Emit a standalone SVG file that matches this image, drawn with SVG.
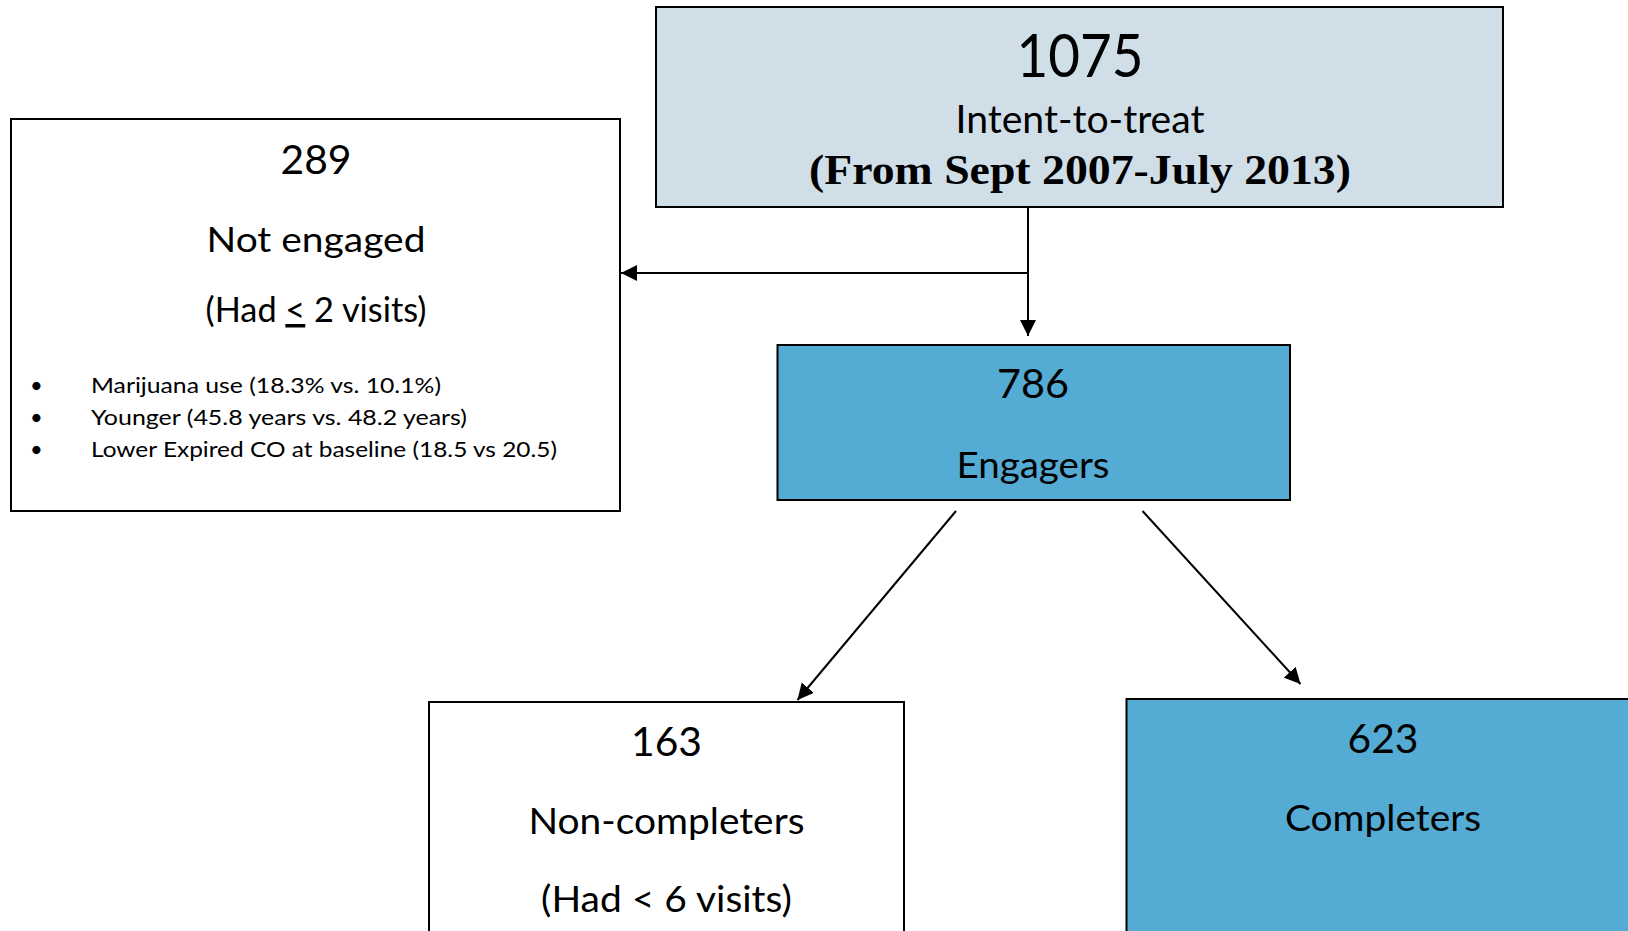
<svg xmlns="http://www.w3.org/2000/svg" width="1628" height="931" viewBox="0 0 1628 931">
<style>
.box{stroke:#000;stroke-width:2}
.t{font-family:Lato,"Open Sans","Liberation Sans",sans-serif;fill:#000;text-anchor:middle}
.b{font-family:"Liberation Serif","DejaVu Serif",serif;font-weight:bold;fill:#000;text-anchor:middle}
.s{font-family:Lato,"Open Sans","Liberation Sans",sans-serif;fill:#000;font-size:22px}
.c{stroke:#000;stroke-width:2;fill:none}
</style>
<defs>
<marker id="ah" viewBox="0 0 16 16" refX="16" refY="8" markerWidth="16" markerHeight="16" markerUnits="userSpaceOnUse" orient="auto">
<path d="M0,0 L16,8 L0,16 z" fill="#000"/>
</marker>
</defs>
<rect width="1628" height="931" fill="#fff"/>
<g id="itt">
<rect class="box" x="656" y="7" width="847" height="200" fill="#d0dee8"/>
<text class="t" x="1080" y="77" font-size="60" textLength="127" lengthAdjust="spacingAndGlyphs">1075</text>
<text class="t" x="1080" y="133" font-size="39" textLength="249" lengthAdjust="spacingAndGlyphs">Intent-to-treat</text>
<text class="b" x="1080" y="184" font-size="43" textLength="542" lengthAdjust="spacingAndGlyphs">(From Sept 2007-July 2013)</text>
</g>
<g id="notengaged">
<rect class="box" x="11" y="119" width="609" height="392" fill="#fff"/>
<text class="t" x="316" y="174" font-size="40" textLength="71" lengthAdjust="spacingAndGlyphs">289</text>
<text class="t" x="316" y="252" font-size="35" textLength="219" lengthAdjust="spacingAndGlyphs">Not engaged</text>
<text class="t" x="316" y="322" font-size="35" textLength="221" lengthAdjust="spacingAndGlyphs">(Had <tspan text-decoration="underline">&lt;</tspan> 2 visits)</text>
<text class="s" x="30" y="393">•</text>
<text class="s" x="30" y="425">•</text>
<text class="s" x="30" y="457">•</text>
<text class="s" x="91" y="393" textLength="350" lengthAdjust="spacingAndGlyphs">Marijuana use (18.3% vs. 10.1%)</text>
<text class="s" x="91" y="425" textLength="376" lengthAdjust="spacingAndGlyphs">Younger (45.8 years vs. 48.2 years)</text>
<text class="s" x="91" y="457" textLength="466" lengthAdjust="spacingAndGlyphs">Lower Expired CO at baseline (18.5 vs 20.5)</text>
</g>
<g id="engagers">
<rect class="box" x="777.5" y="345" width="512.5" height="155" fill="#54abd4"/>
<text class="t" x="1033" y="398" font-size="40" textLength="72" lengthAdjust="spacingAndGlyphs">786</text>
<text class="t" x="1033" y="478" font-size="36" textLength="153" lengthAdjust="spacingAndGlyphs">Engagers</text>
</g>
<g id="noncompleters">
<rect class="box" x="429" y="702" width="475" height="240" fill="#fff"/>
<text class="t" x="666.5" y="756" font-size="40" textLength="71" lengthAdjust="spacingAndGlyphs">163</text>
<text class="t" x="666.5" y="834" font-size="36" textLength="276" lengthAdjust="spacingAndGlyphs">Non-completers</text>
<text class="t" x="666.5" y="912" font-size="36" textLength="251" lengthAdjust="spacingAndGlyphs">(Had &lt; 6 visits)</text>
</g>
<g id="completers">
<rect class="box" x="1126.5" y="699" width="520" height="250" fill="#54abd4"/>
<text class="t" x="1383" y="753" font-size="40" textLength="71" lengthAdjust="spacingAndGlyphs">623</text>
<text class="t" x="1383" y="831" font-size="36" textLength="196" lengthAdjust="spacingAndGlyphs">Completers</text>
</g>
<g id="connectors">
<line class="c" x1="1028" y1="207" x2="1028" y2="336" marker-end="url(#ah)"/>
<line class="c" x1="1029" y1="273" x2="621" y2="273" marker-end="url(#ah)"/>
<line class="c" x1="956" y1="511" x2="797.5" y2="700" marker-end="url(#ah)"/>
<line class="c" x1="1142.5" y1="511" x2="1300.5" y2="684" marker-end="url(#ah)"/>
</g>
</svg>
